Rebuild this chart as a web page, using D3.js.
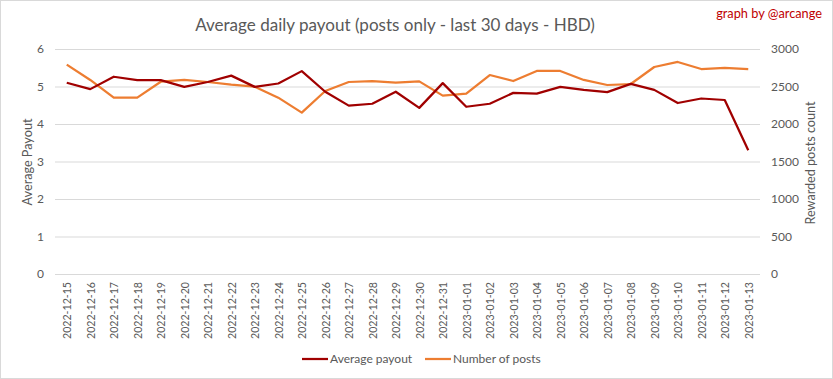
<!DOCTYPE html>
<html><head><meta charset="utf-8">
<script src="https://cdn.jsdelivr.net/npm/d3@7"></script>
<style>body{margin:0;background:#fff}svg{display:block}</style>
</head><body>
<svg id="c" width="833" height="379"></svg>
<script>
const dates = ["2022-12-15","2022-12-16","2022-12-17","2022-12-18","2022-12-19","2022-12-20","2022-12-21","2022-12-22","2022-12-23","2022-12-24","2022-12-25","2022-12-26","2022-12-27","2022-12-28","2022-12-29","2022-12-30","2022-12-31","2023-01-01","2023-01-02","2023-01-03","2023-01-04","2023-01-05","2023-01-06","2023-01-07","2023-01-08","2023-01-09","2023-01-10","2023-01-11","2023-01-12","2023-01-13"];
const avgPayout = [5.10,4.93,5.26,5.17,5.17,4.99,5.12,5.29,4.99,5.08,5.41,4.86,4.49,4.54,4.86,4.43,5.09,4.46,4.54,4.83,4.81,4.99,4.91,4.85,5.07,4.91,4.56,4.68,4.64,3.30];
const postCount = [2791,2587,2351,2351,2564,2587,2560,2524,2498,2351,2151,2440,2560,2573,2551,2568,2378,2404,2653,2573,2707,2707,2587,2520,2533,2760,2827,2733,2747,2733];
const leftTicks = [0,1,2,3,4,5,6];
const rightTicks = [0,500,1000,1500,2000,2500,3000];

const svg = d3.select("#c");
const font = "Lato,'Noto Sans',sans-serif";
const gray = "#595959";
const m = {l:55, r:760, t:49, b:274};

function fit(sel, target) {
  const node = sel.node();
  let fs = parseFloat(sel.attr("font-size"));
  const w = node.getComputedTextLength();
  if (w > 0) sel.attr("font-size", (fs * target / w).toFixed(2));
  return sel;
}

svg.append("rect").attr("x",0.5).attr("y",0.5).attr("width",832).attr("height",378)
  .attr("fill","#fff").attr("stroke","#d9d9d9");

const x = d3.scaleBand().domain(dates).range([m.l, m.r]);
const yL = d3.scaleLinear().domain([0,6]).range([m.b, m.t]);
const yR = d3.scaleLinear().domain([0,3000]).range([m.b, m.t]);

svg.append("g").selectAll("line").data(leftTicks).join("line")
  .attr("x1",m.l).attr("x2",m.r).attr("y1",d=>yL(d)+0.5).attr("y2",d=>yL(d)+0.5)
  .attr("stroke","#d9d9d9").attr("stroke-width",1);

const gl = svg.append("g").attr("transform",`translate(${m.l},0)`)
  .call(d3.axisLeft(yL).tickValues(leftTicks).tickFormat(d3.format("d")).tickSize(0).tickPadding(11));
gl.select(".domain").remove();
gl.selectAll("text").attr("font-family",font).attr("font-size",12).attr("fill",gray);

const gr = svg.append("g").attr("transform",`translate(${m.r},0)`)
  .call(d3.axisRight(yR).tickValues(rightTicks).tickFormat(d3.format("d")).tickSize(0).tickPadding(11));
gr.select(".domain").remove();
gr.selectAll("text").attr("font-family",font).attr("font-size",12).attr("fill",gray);

const gx = svg.append("g").attr("transform",`translate(0,${m.b})`)
  .call(d3.axisBottom(x).tickSize(0).tickPadding(0));
gx.select(".domain").remove();
gx.selectAll("text").attr("font-family",font).attr("font-size",12).attr("fill",gray)
  .attr("text-anchor","end").attr("dy","0.35em")
  .attr("transform","translate(1,8) rotate(-90)").attr("x",0).attr("y",0);
gx.selectAll("text").each(function(){ fit(d3.select(this), 57); });

const cx = d => x(d) + x.bandwidth()/2;
svg.append("path").datum(postCount)
  .attr("fill","none").attr("stroke","#ed7d31").attr("stroke-width",2.25).attr("stroke-linejoin","round")
  .attr("d", d3.line().x((d,i)=>cx(dates[i])).y(d=>yR(d)));
svg.append("path").datum(avgPayout)
  .attr("fill","none").attr("stroke","#a00000").attr("stroke-width",2.25).attr("stroke-linejoin","round")
  .attr("d", d3.line().x((d,i)=>cx(dates[i])).y(d=>yL(d)));

const title = svg.append("text").attr("x",395).attr("y",31).attr("text-anchor","middle")
  .attr("font-family",font).attr("font-size",19).attr("fill",gray)
  .text("Average daily payout (posts only - last 30 days - HBD)");
fit(title, 400);
const credit = svg.append("text").attr("x",822).attr("y",18).attr("text-anchor","end")
  .attr("font-family",font).attr("font-size",12.5).attr("fill","#c00000")
  .text("graph by @arcange");
fit(credit, 106);
const lt = svg.append("text").attr("transform",`translate(32,162) rotate(-90)`).attr("text-anchor","middle")
  .attr("font-family",font).attr("font-size",12).attr("fill",gray).text("Average Payout");
fit(lt, 87);
const rt = svg.append("text").attr("transform",`translate(815,163) rotate(-90)`).attr("text-anchor","middle")
  .attr("font-family",font).attr("font-size",12).attr("fill",gray).text("Rewarded posts count");
fit(rt, 123);

const legend = [{name:"Average payout", c:"#a00000", x:302},{name:"Number of posts", c:"#ed7d31", x:425}];
const lg = svg.append("g").selectAll("g").data(legend).join("g").attr("transform",d=>`translate(${d.x},359)`);
lg.append("line").attr("x1",0).attr("x2",26).attr("y1",0).attr("y2",0).attr("stroke",d=>d.c).attr("stroke-width",2.25);
lg.append("text").attr("x",28).attr("y",0).attr("dy","0.35em").attr("font-family",font).attr("font-size",12)
  .attr("fill",gray).text(d=>d.name);
</script>
</body></html>
